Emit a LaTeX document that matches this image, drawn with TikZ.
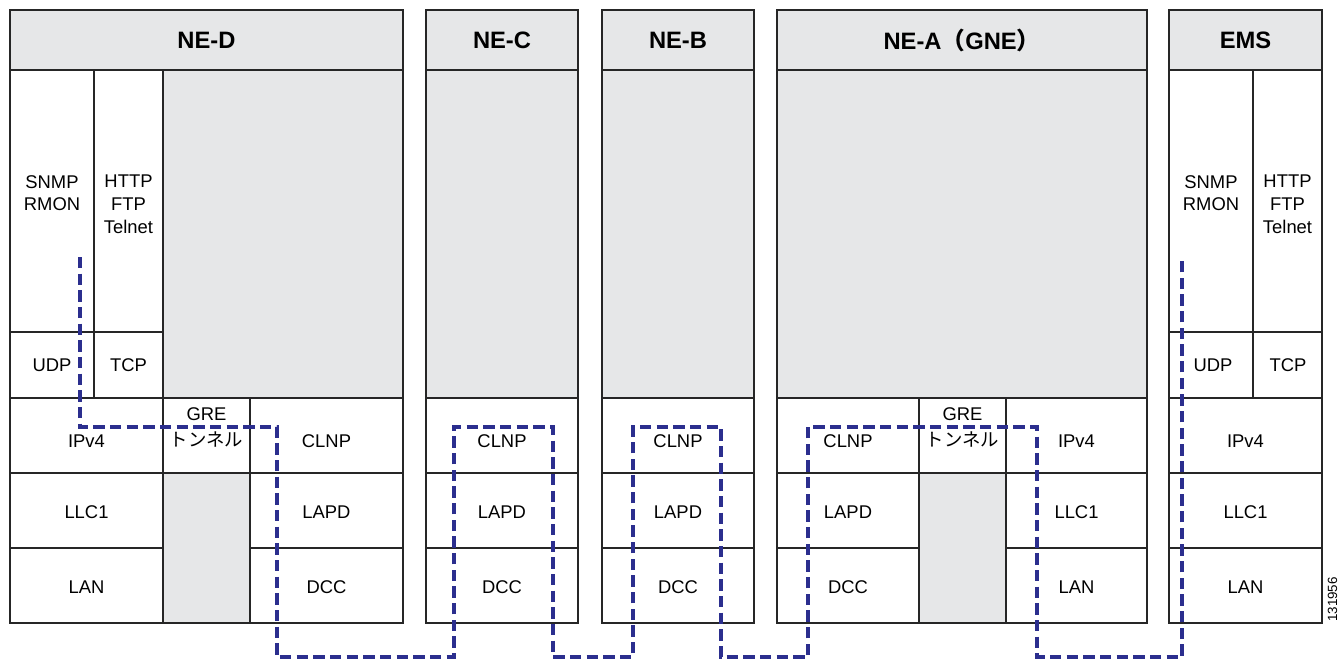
\documentclass[tikz,border=0pt]{standalone}
\usepackage{fontspec}
\setmainfont{Liberation Sans}
\newfontfamily\jpfont{Noto Sans CJK JP}
\definecolor{capa}{RGB}{230,231,232}
\definecolor{ruta}{RGB}{43,46,142}

\begin{document}
\begin{tikzpicture}[x=0.75pt,y=-0.75pt,
    celda/.style={draw=black!85, line width=0.9pt},
    gris/.style={celda, fill=capa},
    txt/.style={font=\fontsize{13.8}{17}\selectfont, align=center, inner sep=0pt},
    titulo/.style={font=\fontsize{17.8}{21}\selectfont\bfseries, inner sep=0pt},
    camino/.style={draw=ruta, line width=3pt, dash pattern=on 8.5pt off 4pt}]
  \useasboundingbox (0,0) rectangle (1341,660);

  % NE-D
  \draw[gris] (10,10) rectangle (403,70);
  \node[titulo] (ned) at (206.5,40) {NE-D};
  \draw[celda] (10,70) rectangle (94,332);
  \draw[celda] (94,70) rectangle (163,332);
  \draw[gris] (163,70) rectangle (403,398);
  \draw[celda] (10,332) rectangle (94,398);
  \draw[celda] (94,332) rectangle (163,398);
  \draw[celda] (10,398) rectangle (163,473);
  \draw[celda] (163,398) rectangle (250,473);
  \draw[celda] (250,398) rectangle (403,473);
  \draw[celda] (10,473) rectangle (163,548);
  \draw[gris] (163,473) rectangle (250,623);
  \draw[celda] (250,473) rectangle (403,548);
  \draw[celda] (10,548) rectangle (163,623);
  \draw[celda] (250,548) rectangle (403,623);
  \node[txt, anchor=north] (ned-snmp) at (52,175) {SNMP\\RMON};
  \node[txt, anchor=north] (ned-http) at (128.5,175) {HTTP\\FTP\\Telnet};
  \node[txt] (ned-udp) at (52,365) {UDP};
  \node[txt] (ned-tcp) at (128.5,365) {TCP};
  \node[txt] (ned-ip) at (86.5,441) {IPv4};
  \node[txt, anchor=north] (ned-gre) at (206.5,407) {GRE\\[2.6pt]{\jpfont トンネル}};
  \node[txt] (ned-clnp) at (326.5,441) {CLNP};
  \node[txt] (ned-llc) at (86.5,512) {LLC1};
  \node[txt] (ned-lapd) at (326.5,512) {LAPD};
  \node[txt] (ned-lan) at (86.5,587) {LAN};
  \node[txt] (ned-dcc) at (326.5,587) {DCC};

  % NE-C
  \draw[gris] (426,10) rectangle (578,70);
  \node[titulo] (nec) at (502,40) {NE-C};
  \draw[gris] (426,70) rectangle (578,398);
  \draw[celda] (426,398) rectangle (578,473);
  \draw[celda] (426,473) rectangle (578,548);
  \draw[celda] (426,548) rectangle (578,623);
  \node[txt] (nec-clnp) at (502,441) {CLNP};
  \node[txt] (nec-lapd) at (502,512) {LAPD};
  \node[txt] (nec-dcc) at (502,587) {DCC};

  % NE-B
  \draw[gris] (602,10) rectangle (754,70);
  \node[titulo] (neb) at (678,40) {NE-B};
  \draw[gris] (602,70) rectangle (754,398);
  \draw[celda] (602,398) rectangle (754,473);
  \draw[celda] (602,473) rectangle (754,548);
  \draw[celda] (602,548) rectangle (754,623);
  \node[txt] (neb-clnp) at (678,441) {CLNP};
  \node[txt] (neb-lapd) at (678,512) {LAPD};
  \node[txt] (neb-dcc) at (678,587) {DCC};

  % NE-A (GNE)
  \draw[gris] (777,10) rectangle (1147,70);
  \node[titulo] (nea) at (962,40) {NE-A{\jpfont （}GNE{\jpfont ）}};
  \draw[gris] (777,70) rectangle (1147,398);
  \draw[celda] (777,398) rectangle (919,473);
  \draw[celda] (919,398) rectangle (1006,473);
  \draw[celda] (1006,398) rectangle (1147,473);
  \draw[celda] (777,473) rectangle (919,548);
  \draw[gris] (919,473) rectangle (1006,623);
  \draw[celda] (1006,473) rectangle (1147,548);
  \draw[celda] (777,548) rectangle (919,623);
  \draw[celda] (1006,548) rectangle (1147,623);
  \node[txt] (nea-clnp) at (848,441) {CLNP};
  \node[txt, anchor=north] (nea-gre) at (962.5,407) {GRE\\[2.6pt]{\jpfont トンネル}};
  \node[txt] (nea-ip) at (1076.5,441) {IPv4};
  \node[txt] (nea-lapd) at (848,512) {LAPD};
  \node[txt] (nea-llc) at (1076.5,512) {LLC1};
  \node[txt] (nea-dcc) at (848,587) {DCC};
  \node[txt] (nea-lan) at (1076.5,587) {LAN};

  % EMS
  \draw[gris] (1169,10) rectangle (1322,70);
  \node[titulo] (ems) at (1245.5,40) {EMS};
  \draw[celda] (1169,70) rectangle (1253,332);
  \draw[celda] (1253,70) rectangle (1322,332);
  \draw[celda] (1169,332) rectangle (1253,398);
  \draw[celda] (1253,332) rectangle (1322,398);
  \draw[celda] (1169,398) rectangle (1322,473);
  \draw[celda] (1169,473) rectangle (1322,548);
  \draw[celda] (1169,548) rectangle (1322,623);
  \node[txt, anchor=north] (ems-snmp) at (1211,175) {SNMP\\RMON};
  \node[txt, anchor=north] (ems-http) at (1287.5,175) {HTTP\\FTP\\Telnet};
  \node[txt] (ems-udp) at (1213,365) {UDP};
  \node[txt] (ems-tcp) at (1288,365) {TCP};
  \node[txt] (ems-ip) at (1245.5,441) {IPv4};
  \node[txt] (ems-llc) at (1245.5,512) {LLC1};
  \node[txt] (ems-lan) at (1245.5,587) {LAN};

  % Numero de figura
  \node[font=\fontsize{10}{12}\selectfont, inner sep=0pt, rotate=90, anchor=west] (fig) at (1332.5,622) {131956};

  % Ruta
  \coordinate (c1) at (80,257);
  \coordinate (c2) at (80,427);
  \coordinate (c3) at (277,427);
  \coordinate (c4) at (277,657);
  \coordinate (c5) at (454,657);
  \coordinate (c6) at (454,427);
  \coordinate (c7) at (553,427);
  \coordinate (c8) at (553,657);
  \coordinate (c9) at (633,657);
  \coordinate (c10) at (633,427);
  \coordinate (c11) at (721,427);
  \coordinate (c12) at (721,657);
  \coordinate (c13) at (808,657);
  \coordinate (c14) at (808,427);
  \coordinate (c15) at (1037,427);
  \coordinate (c16) at (1037,657);
  \coordinate (c17) at (1182,657);
  \coordinate (c18) at (1182,257);
  \draw[camino] (c1) -- (c2) -- (c3) -- (c4) -- (c5) -- (c6) -- (c7) -- (c8) -- (c9)
    -- (c10) -- (c11) -- (c12) -- (c13) -- (c14) -- (c15) -- (c16) -- (c17) -- (c18);
\end{tikzpicture}
\end{document}
